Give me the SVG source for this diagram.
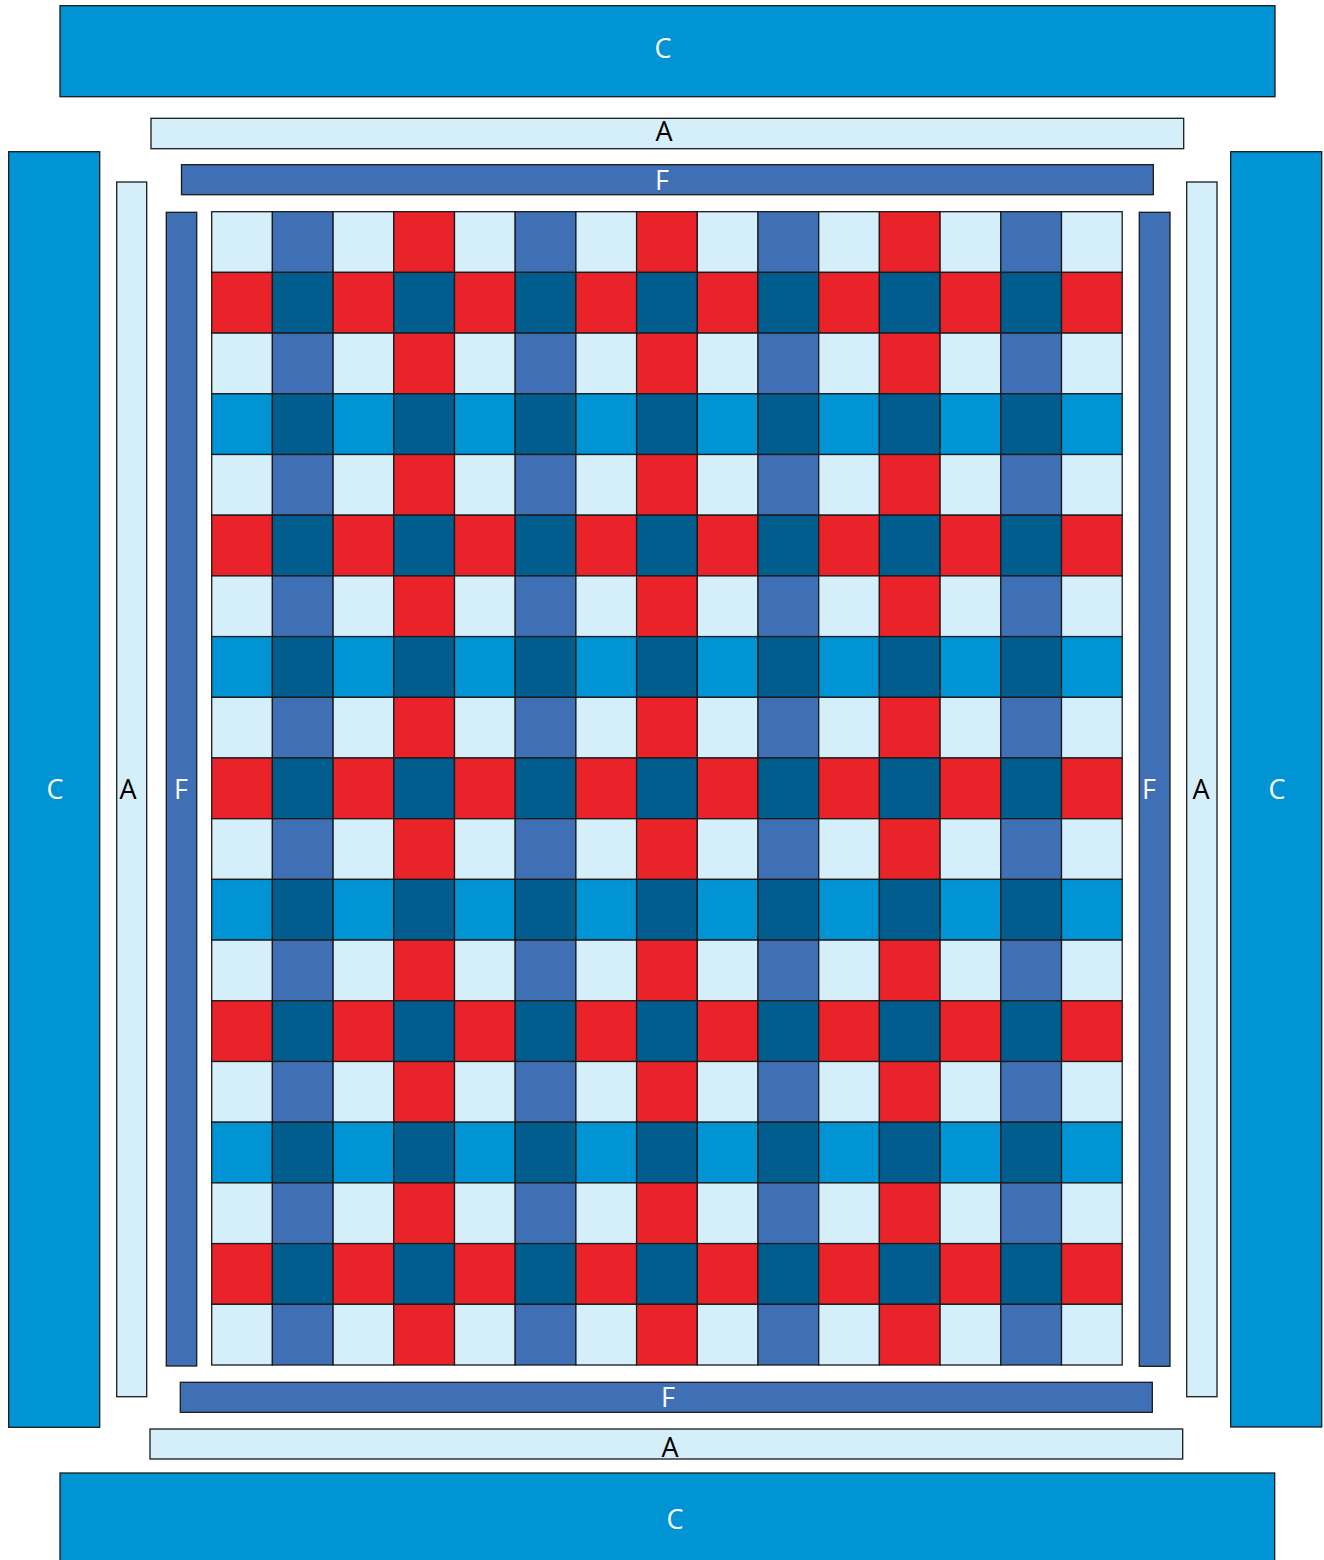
<svg xmlns="http://www.w3.org/2000/svg" xmlns:xlink="http://www.w3.org/1999/xlink" width="1324" height="1560" viewBox="0 0 1324 1560">
<style>
rect{stroke:#1a1a1a;stroke-width:1.3}
.c{fill:#0094d4}.l{fill:#d4eefa}.f{fill:#3f70b6}.r{fill:#e92329}.d{fill:#015d8d}
text{font-family:"Open Sans","DejaVu Sans",sans-serif;font-size:27px;text-anchor:middle}
.w{fill:#ffffff}.k{fill:#000000}
</style>
<defs>
<g id="rowA">
<rect class="l" x="211.7" y="0" width="60.7" height="60.7"/><rect class="f" x="272.4" y="0" width="60.7" height="60.7"/><rect class="l" x="333.1" y="0" width="60.7" height="60.7"/><rect class="r" x="393.8" y="0" width="60.7" height="60.7"/><rect class="l" x="454.5" y="0" width="60.7" height="60.7"/><rect class="f" x="515.2" y="0" width="60.7" height="60.7"/><rect class="l" x="575.9" y="0" width="60.7" height="60.7"/><rect class="r" x="636.6" y="0" width="60.7" height="60.7"/><rect class="l" x="697.3" y="0" width="60.7" height="60.7"/><rect class="f" x="758" y="0" width="60.7" height="60.7"/><rect class="l" x="818.7" y="0" width="60.7" height="60.7"/><rect class="r" x="879.4" y="0" width="60.7" height="60.7"/><rect class="l" x="940.1" y="0" width="60.7" height="60.7"/><rect class="f" x="1000.8" y="0" width="60.7" height="60.7"/><rect class="l" x="1061.5" y="0" width="60.7" height="60.7"/>
</g>
<g id="rowR">
<rect class="r" x="211.7" y="0" width="60.7" height="60.7"/><rect class="d" x="272.4" y="0" width="60.7" height="60.7"/><rect class="r" x="333.1" y="0" width="60.7" height="60.7"/><rect class="d" x="393.8" y="0" width="60.7" height="60.7"/><rect class="r" x="454.5" y="0" width="60.7" height="60.7"/><rect class="d" x="515.2" y="0" width="60.7" height="60.7"/><rect class="r" x="575.9" y="0" width="60.7" height="60.7"/><rect class="d" x="636.6" y="0" width="60.7" height="60.7"/><rect class="r" x="697.3" y="0" width="60.7" height="60.7"/><rect class="d" x="758" y="0" width="60.7" height="60.7"/><rect class="r" x="818.7" y="0" width="60.7" height="60.7"/><rect class="d" x="879.4" y="0" width="60.7" height="60.7"/><rect class="r" x="940.1" y="0" width="60.7" height="60.7"/><rect class="d" x="1000.8" y="0" width="60.7" height="60.7"/><rect class="r" x="1061.5" y="0" width="60.7" height="60.7"/>
</g>
<g id="rowB">
<rect class="c" x="211.7" y="0" width="60.7" height="60.7"/><rect class="d" x="272.4" y="0" width="60.7" height="60.7"/><rect class="c" x="333.1" y="0" width="60.7" height="60.7"/><rect class="d" x="393.8" y="0" width="60.7" height="60.7"/><rect class="c" x="454.5" y="0" width="60.7" height="60.7"/><rect class="d" x="515.2" y="0" width="60.7" height="60.7"/><rect class="c" x="575.9" y="0" width="60.7" height="60.7"/><rect class="d" x="636.6" y="0" width="60.7" height="60.7"/><rect class="c" x="697.3" y="0" width="60.7" height="60.7"/><rect class="d" x="758" y="0" width="60.7" height="60.7"/><rect class="c" x="818.7" y="0" width="60.7" height="60.7"/><rect class="d" x="879.4" y="0" width="60.7" height="60.7"/><rect class="c" x="940.1" y="0" width="60.7" height="60.7"/><rect class="d" x="1000.8" y="0" width="60.7" height="60.7"/><rect class="c" x="1061.5" y="0" width="60.7" height="60.7"/>
</g>
</defs>
<g id="border-top-C"><rect class="c" x="60" y="5.7" width="1215" height="91"/><text class="w" x="663" y="58">C</text></g>
<g id="border-top-A"><rect class="l" x="151" y="118.3" width="1032.7" height="30.4"/><text class="k" x="664" y="141">A</text></g>
<g id="border-top-F"><rect class="f" x="181.5" y="164.7" width="971.8" height="30"/><text class="w" x="662" y="190">F</text></g>
<g id="border-left-C"><rect class="c" x="8.7" y="151.7" width="91" height="1275.6"/><text class="w" x="55" y="799">C</text></g>
<g id="border-left-A"><rect class="l" x="116.7" y="182" width="30" height="1214.7"/><text class="k" x="128" y="799">A</text></g>
<g id="border-left-F"><rect class="f" x="166.3" y="212.3" width="30.4" height="1153.7"/><text class="w" x="181" y="799">F</text></g>
<g id="border-right-F"><rect class="f" x="1139.3" y="212.3" width="30.7" height="1154"/><text class="w" x="1149" y="799">F</text></g>
<g id="border-right-A"><rect class="l" x="1186.7" y="182" width="30.3" height="1214.7"/><text class="k" x="1201" y="799">A</text></g>
<g id="border-right-C"><rect class="c" x="1230.7" y="151.7" width="91" height="1275.3"/><text class="w" x="1277" y="799">C</text></g>
<g id="border-bottom-F"><rect class="f" x="180.3" y="1382.3" width="972" height="30"/><text class="w" x="668" y="1407">F</text></g>
<g id="border-bottom-A"><rect class="l" x="150" y="1429" width="1032.7" height="30"/><text class="k" x="670" y="1457">A</text></g>
<g id="border-bottom-C"><rect class="c" x="60" y="1473" width="1214.7" height="95"/><text class="w" x="675" y="1529">C</text></g>
<g id="center-grid">
<use xlink:href="#rowA" y="211.7"/>
<use xlink:href="#rowR" y="272.4"/>
<use xlink:href="#rowA" y="333.1"/>
<use xlink:href="#rowB" y="393.8"/>
<use xlink:href="#rowA" y="454.5"/>
<use xlink:href="#rowR" y="515.2"/>
<use xlink:href="#rowA" y="575.9"/>
<use xlink:href="#rowB" y="636.6"/>
<use xlink:href="#rowA" y="697.3"/>
<use xlink:href="#rowR" y="758"/>
<use xlink:href="#rowA" y="818.7"/>
<use xlink:href="#rowB" y="879.4"/>
<use xlink:href="#rowA" y="940.1"/>
<use xlink:href="#rowR" y="1000.8"/>
<use xlink:href="#rowA" y="1061.5"/>
<use xlink:href="#rowB" y="1122.2"/>
<use xlink:href="#rowA" y="1182.9"/>
<use xlink:href="#rowR" y="1243.6"/>
<use xlink:href="#rowA" y="1304.3"/>
</g>
<g id="connectors"/>
</svg>
